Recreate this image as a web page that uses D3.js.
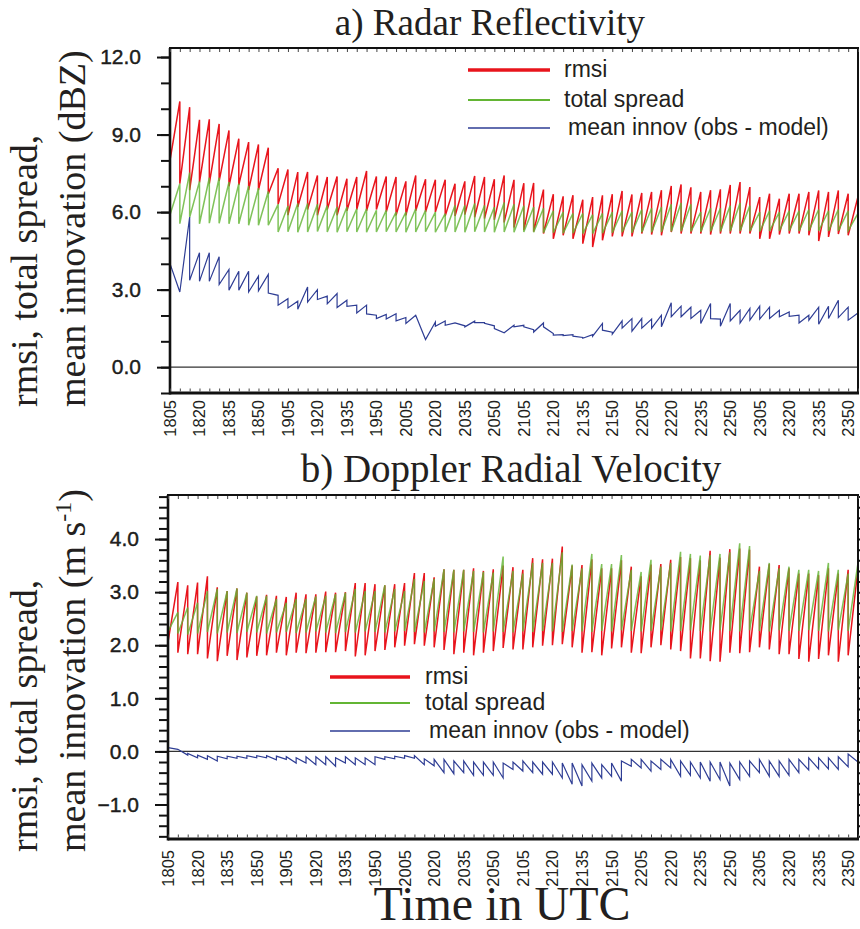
<!DOCTYPE html>
<meta charset="utf-8">
<script src="https://d3js.org/d3.v7.min.js"></script>
<style>
  body { margin: 0; background: #fff; }
  svg text { fill: #231f20; }
</style>
<body>
<div id="canvas"></div>
<script>

// x axis: one analysis cycle every 5 minutes, 1805 .. 2355 UTC (index 0..70)
var xTickLabels = ["1805","1820","1835","1850","1905","1920","1935","1950",
                   "2005","2020","2035","2050","2105","2120","2135","2150",
                   "2205","2220","2235","2250","2305","2320","2335","2350"];
var cycleMinutes = d3.range(0, 351, 5);

// a) radar reflectivity (dBZ) - prior (forecast) and posterior (analysis) per cycle
var refRmsiPrior = [8.0,10.28,10.06,9.57,9.59,9.41,9.16,8.84,8.71,8.62,8.49,
  7.70,7.65,7.55,7.55,7.42,7.36,7.38,7.29,7.36,7.59,7.38,7.38,7.36,7.19,7.42,
  7.27,7.25,7.25,7.10,7.19,7.40,7.36,7.27,7.42,7.25,7.12,7.13,6.87,6.69,6.61,
  6.65,6.48,6.58,6.65,6.69,6.82,6.68,6.74,6.78,6.85,7.01,7.07,6.96,6.78,6.85,
  6.88,7.05,7.16,6.97,6.58,6.71,6.52,6.71,6.71,6.78,6.84,6.78,6.84,6.71,6.6];
var refRmsiPost = [8.0,7.10,6.85,7.15,7.10,7.20,7.00,7.05,6.85,6.85,6.70,
  6.30,5.88,6.20,6.10,5.88,6.10,5.88,6.05,6.10,6.05,6.10,6.00,5.88,5.88,6.05,
  6.00,6.00,5.85,5.85,5.90,5.80,5.75,5.70,5.60,5.40,5.30,5.25,5.17,4.97,5.10,
  4.97,4.78,4.65,4.91,5.06,5.06,5.06,5.17,5.13,5.10,5.23,5.17,5.17,5.17,5.13,
  5.17,5.17,5.17,5.17,4.97,4.97,5.13,5.17,5.17,5.10,4.88,5.04,5.15,5.10,6.6];
var refSpreadPrior = [5.9,7.10,7.53,7.19,7.33,7.33,7.16,7.10,7.01,6.93,6.80,
  6.30,6.24,6.33,6.33,6.30,6.25,6.20,6.20,6.13,6.13,6.07,6.07,6.00,6.00,6.13,
  6.07,6.00,5.94,6.26,6.26,6.33,6.26,6.20,6.37,6.30,6.25,6.20,6.15,6.05,6.00,
  5.95,5.95,5.90,5.95,6.00,6.05,6.00,6.10,6.15,6.20,6.30,6.35,6.30,6.00,6.15,
  6.15,6.25,6.35,6.25,6.00,6.05,6.00,6.05,6.05,6.10,6.10,6.05,6.10,6.05,5.95];
var refSpreadPost = [5.9,5.55,5.80,5.55,5.57,5.57,5.55,5.55,5.49,5.49,5.49,
  5.23,5.24,5.22,5.23,5.25,5.23,5.22,5.24,5.23,5.22,5.23,5.24,5.23,5.22,5.23,
  5.24,5.22,5.23,5.23,5.22,5.24,5.23,5.22,5.23,5.22,5.23,5.22,5.20,5.20,5.18,
  5.18,5.17,5.17,5.18,5.20,5.22,5.20,5.22,5.22,5.23,5.25,5.26,5.25,5.24,5.25,
  5.25,5.26,5.27,5.26,5.25,5.27,5.28,5.28,5.27,5.28,5.28,5.27,5.28,5.28,5.95];
var refInnovPrior = [4.0,2.91,5.81,4.43,4.43,4.27,3.78,3.71,3.71,3.52,3.59,
  2.78,2.65,2.55,3.10,3.00,2.75,2.85,2.59,2.40,2.40,2.01,2.04,2.07,1.92,2.01,
  1.07,1.75,1.79,1.71,1.60,1.78,1.72,1.60,1.33,1.62,1.62,1.45,1.71,1.30,1.26,
  1.26,1.15,1.26,1.69,1.35,1.79,1.88,1.88,1.86,2.01,2.49,2.36,2.32,2.20,2.46,
  1.86,2.46,2.20,2.27,2.36,2.32,2.20,2.14,2.01,2.01,2.32,2.36,2.59,2.32,2.10];
var refInnovPost = [4.0,2.91,3.36,3.32,3.32,3.20,2.98,2.98,2.91,2.95,2.87,
  2.40,2.29,2.24,2.52,2.62,2.45,2.31,2.35,2.10,2.06,1.88,1.86,1.79,1.69,2.01,
  1.07,1.58,1.62,1.71,1.56,1.72,1.70,1.49,1.33,1.56,1.56,1.36,1.56,1.24,1.22,
  1.20,1.12,1.20,1.43,1.28,1.51,1.39,1.51,1.51,1.56,1.95,1.95,1.88,1.69,1.88,
  1.58,1.79,1.71,1.82,1.86,1.88,1.95,1.97,1.71,1.82,1.66,1.88,1.92,1.82,2.10];

// b) doppler radial velocity (m/s)
var velRmsiPrior = [2.06,3.19,3.13,3.18,3.30,3.09,3.02,3.07,2.99,2.92,2.95,
  2.93,2.91,2.99,2.96,2.96,3.01,2.99,3.00,3.17,3.17,3.15,3.13,3.15,3.17,3.36,
  3.36,3.28,3.43,3.42,3.42,3.45,3.40,3.43,3.50,3.47,3.42,3.64,3.62,3.63,3.86,
  3.50,3.51,3.62,3.45,3.45,3.60,3.48,3.30,3.52,3.53,3.61,3.66,3.64,3.60,3.78,
  3.65,3.81,3.82,3.80,3.48,3.53,3.51,3.45,3.35,3.35,3.32,3.45,3.35,3.42,3.45];
var velRmsiPost = [2.06,1.86,1.83,1.83,1.75,1.70,1.80,1.72,1.77,1.80,1.81,
  1.86,1.81,1.86,1.85,1.86,1.87,1.87,1.89,1.79,1.81,1.89,1.91,1.96,1.99,2.02,
  1.99,1.96,1.91,1.83,1.86,1.81,1.86,1.89,1.95,1.92,1.92,1.96,1.99,2.00,2.02,
  1.96,1.86,1.87,1.81,1.94,1.96,1.86,1.85,1.96,2.00,1.92,1.89,1.75,1.75,1.70,
  1.69,1.86,1.85,1.87,1.96,1.92,1.83,1.83,1.74,1.69,1.74,1.81,1.69,1.81,3.45];
var velSpreadPrior = [2.26,2.62,2.71,2.80,3.02,3.06,3.02,3.07,2.99,2.93,2.93,
  2.87,2.80,2.87,2.87,2.92,2.93,2.96,2.99,3.06,3.02,3.02,3.13,3.06,3.02,3.25,
  3.21,3.25,3.43,3.42,3.42,3.40,3.38,3.37,3.67,3.40,3.35,3.55,3.55,3.55,3.75,
  3.52,3.45,3.72,3.53,3.53,3.70,3.42,3.38,3.61,3.48,3.55,3.76,3.72,3.69,3.70,
  3.72,3.75,3.92,3.87,3.40,3.55,3.45,3.48,3.42,3.42,3.40,3.55,3.42,3.35,3.55];
var velSpreadPost = [2.26,2.22,2.20,2.22,2.25,2.22,2.24,2.23,2.25,2.24,2.22,
  2.24,2.25,2.23,2.24,2.26,2.24,2.23,2.25,2.24,2.26,2.25,2.24,2.26,2.27,2.25,
  2.24,2.26,2.25,2.24,2.26,2.25,2.24,2.26,2.25,2.24,2.26,2.25,2.27,2.26,2.25,
  2.27,2.26,2.25,2.27,2.26,2.28,2.27,2.26,2.27,2.28,2.26,2.27,2.28,2.27,2.26,
  2.28,2.27,2.26,2.28,2.27,2.26,2.28,2.27,2.27,2.28,2.27,2.26,2.28,2.27,3.55];
var velInnovPrior = [0.07,0.04,-0.07,-0.12,-0.15,-0.18,-0.14,-0.13,-0.13,-0.12,-0.12,
  -0.16,-0.15,-0.22,-0.22,-0.25,-0.25,-0.28,-0.22,-0.25,-0.25,-0.25,-0.15,-0.14,-0.13,-0.13,
  -0.25,-0.27,-0.40,-0.42,-0.40,-0.45,-0.45,-0.45,-0.50,-0.34,-0.37,-0.40,-0.43,-0.43,-0.50,
  -0.62,-0.65,-0.56,-0.50,-0.47,-0.56,-0.28,-0.31,-0.37,-0.34,-0.31,-0.47,-0.45,-0.50,-0.56,
  -0.53,-0.65,-0.53,-0.47,-0.40,-0.47,-0.47,-0.45,-0.40,-0.35,-0.33,-0.33,-0.34,-0.29,-0.20];
var velInnovPost = [0.07,0.04,-0.04,-0.07,-0.08,-0.09,-0.09,-0.09,-0.08,-0.08,-0.08,
  -0.09,-0.10,-0.12,-0.10,-0.10,-0.10,-0.12,-0.10,-0.12,-0.12,-0.10,-0.10,-0.09,-0.08,-0.08,
  -0.14,-0.15,-0.15,-0.18,-0.18,-0.20,-0.20,-0.20,-0.22,-0.20,-0.18,-0.20,-0.20,-0.20,-0.22,
  -0.22,-0.25,-0.22,-0.25,-0.22,-0.18,-0.15,-0.15,-0.18,-0.15,-0.15,-0.18,-0.20,-0.20,-0.20,
  -0.20,-0.22,-0.20,-0.18,-0.15,-0.18,-0.18,-0.15,-0.15,-0.12,-0.12,-0.12,-0.10,-0.05,-0.20];

var red = "#e8141c", green = "#63b534", blue = "#2e3d94";
var serif = "'Liberation Serif', 'Times New Roman', serif";
var sans = "'Liberation Sans', Arial, sans-serif";

var svg = d3.select("#canvas").append("svg")
    .attr("width", 860).attr("height", 929);

// builds the sawtooth: prior then analysis at the same time
function sawtooth(prior, post) {
  var pts = [];
  cycleMinutes.forEach(function(t, i) {
    pts.push([t, prior[i]]);
    pts.push([t, post[i]]);
  });
  return pts;
}

function drawPanel(p) {
  var x = d3.scaleLinear().domain([0, 350]).range([p.left, p.right]);
  var y = d3.scaleLinear().domain(p.yDomain).range([p.bottom, p.top]);

  svg.append("clipPath").attr("id", p.id + "clip")
    .append("rect")
    .attr("x", p.left).attr("y", p.top)
    .attr("width", p.right - p.left).attr("height", p.bottom - p.top);

  // zero line
  svg.append("line")
    .attr("x1", p.left).attr("x2", p.right)
    .attr("y1", y(0)).attr("y2", y(0))
    .attr("stroke", "#333").attr("stroke-width", 1.3);

  var line = d3.line()
    .x(function(d) { return x(d[0]); })
    .y(function(d) { return y(d[1]); });

  var g = svg.append("g").attr("clip-path", "url(#" + p.id + "clip)");
  g.append("path").attr("d", line(sawtooth(p.rmsi[0], p.rmsi[1])))
    .attr("fill", "none").attr("stroke", red).attr("stroke-width", 1.5);
  g.append("path").attr("d", line(sawtooth(p.spread[0], p.spread[1])))
    .attr("fill", "none").attr("stroke", green).attr("stroke-width", 1.5)
    .attr("stroke-opacity", 0.82);
  g.append("path").attr("d", line(sawtooth(p.innov[0], p.innov[1])))
    .attr("fill", "none").attr("stroke", blue).attr("stroke-width", 1.2);

  // frame
  svg.append("rect")
    .attr("x", p.left).attr("y", p.top)
    .attr("width", p.right - p.left).attr("height", p.bottom - p.top)
    .attr("fill", "none").attr("stroke", "#111").attr("stroke-width", 2);
  svg.append("line").attr("x1", p.left).attr("x2", p.left)
    .attr("y1", p.top).attr("y2", p.bottom + 1.5)
    .attr("stroke", "#111").attr("stroke-width", 2.6);
  svg.append("line").attr("x1", p.left).attr("x2", p.right + 1)
    .attr("y1", p.bottom).attr("y2", p.bottom)
    .attr("stroke", "#111").attr("stroke-width", 3);

  // y axis, major + minor ticks pointing out
  var yl = d3.axisLeft(y).tickValues(p.yMinor).tickSize(9).tickFormat("");
  svg.append("g").attr("transform", "translate(" + p.left + ",0)").call(yl)
    .call(function(a) { a.select(".domain").remove(); })
    .selectAll("line").attr("stroke", "#111").attr("stroke-width", 2);
  var ya = d3.axisLeft(y).tickValues(p.yMajor).tickSize(13).tickPadding(16)
    .tickFormat(d3.format(".1f"));
  var yg = svg.append("g").attr("transform", "translate(" + p.left + ",0)").call(ya);
  yg.select(".domain").remove();
  yg.selectAll("line").attr("stroke", "#111").attr("stroke-width", 2);
  yg.selectAll("text").attr("font-family", sans).attr("font-size", 21)
    .attr("fill", "#111").attr("stroke", "#111").attr("stroke-width", 0.4);

  if (p.rightTicks) {
    var yr = d3.axisRight(y).tickValues(p.yMinor).tickSize(6).tickFormat("");
    svg.append("g").attr("transform", "translate(" + p.right + ",0)").call(yr)
      .call(function(a) { a.select(".domain").remove(); })
      .selectAll("line").attr("stroke", "#111").attr("stroke-width", 2);
  }

  // x minor ticks inside, top and bottom
  var xb = d3.axisBottom(x).tickValues(cycleMinutes).tickSize(-3).tickFormat("");
  svg.append("g").attr("transform", "translate(0," + (p.bottom - 1.5) + ")").call(xb)
    .call(function(a) { a.select(".domain").remove(); })
    .selectAll("line").attr("stroke", "#444").attr("stroke-width", 1);
  var xt = d3.axisTop(x).tickValues(cycleMinutes).tickSize(-3).tickFormat("");
  svg.append("g").attr("transform", "translate(0," + (p.top + 1) + ")").call(xt)
    .call(function(a) { a.select(".domain").remove(); })
    .selectAll("line").attr("stroke", "#444").attr("stroke-width", 1);

  // x labels, rotated
  svg.append("g").selectAll("text")
    .data(xTickLabels)
    .enter().append("text")
    .attr("transform", function(d, i) {
      return "translate(" + (x(i * 15) + 6) + "," + (p.bottom + p.labelGap) + ") rotate(-90)";
    })
    .attr("text-anchor", "end")
    .attr("font-family", sans).attr("font-size", 16.5)
    .text(function(d) { return d; });

  // title
  svg.append("text").attr("x", p.titleX).attr("y", p.titleY)
    .attr("text-anchor", "middle").attr("font-family", serif).attr("font-size", p.titleSize)
    .text(p.title);

  // y label, two lines rotated
  var lab = svg.append("g").attr("font-family", serif).attr("font-size", 38);
  lab.append("text").attr("transform", "translate(37," + p.labelY + ") rotate(-90)")
    .text("rmsi, total spread,");
  var l2 = lab.append("text").attr("transform", "translate(85," + p.labelY + ") rotate(-90)");
  l2.append("tspan").text(p.unitLine);
  if (p.sup) {
    l2.append("tspan").attr("font-size", 24).attr("dy", -14).text(p.sup);
    l2.append("tspan").attr("dy", 14).text(")");
  }

  // legend
  var leg = [
    {name: "rmsi", color: red, w: 3.5, dx: 0},
    {name: "total spread", color: green, w: 2, dx: 0},
    {name: "mean innov (obs - model)", color: blue, w: 1.4, dx: 4}
  ];
  var lg = svg.append("g");
  leg.forEach(function(d, i) {
    var ly = p.legY[i];
    lg.append("line").attr("x1", p.legX1).attr("x2", p.legX2)
      .attr("y1", ly).attr("y2", ly)
      .attr("stroke", d.color).attr("stroke-width", d.w);
    lg.append("text").attr("x", p.legText + d.dx).attr("y", ly + 7)
      .attr("font-family", sans).attr("font-size", 23)
      .text(d.name);
  });
}

drawPanel({
  id: "a", left: 170, right: 858, top: 48, bottom: 393,
  yDomain: [-1.0, 12.35],
  yMajor: [0, 3, 6, 9, 12],
  yMinor: d3.range(-1, 12.5, 1),
  rightTicks: false,
  rmsi: [refRmsiPrior, refRmsiPost],
  spread: [refSpreadPrior, refSpreadPost],
  innov: [refInnovPrior, refInnovPost],
  labelGap: 7,
  title: "a) Radar Reflectivity", titleX: 490, titleY: 35, titleSize: 37,
  labelY: 407, unitLine: "mean innovation (dBZ)",
  legX1: 468, legX2: 550, legText: 564, legY: [70, 100, 128]
});

drawPanel({
  id: "b", left: 168, right: 858, top: 495, bottom: 839,
  yDomain: [-1.65, 4.83],
  yMajor: [-1, 0, 1, 2, 3, 4],
  yMinor: d3.range(-16, 49, 2).map(function(v) { return v / 10; }),
  rightTicks: true,
  rmsi: [velRmsiPrior, velRmsiPost],
  spread: [velSpreadPrior, velSpreadPost],
  innov: [velInnovPrior, velInnovPost],
  labelGap: 11,
  title: "b) Doppler Radial Velocity", titleX: 511, titleY: 482, titleSize: 39,
  labelY: 852, unitLine: "mean innovation (m s", sup: "-1",
  legX1: 330, legX2: 410, legText: 425, legY: [677, 703, 731]
});

svg.append("text").attr("x", 502).attr("y", 920)
  .attr("text-anchor", "middle").attr("font-family", serif).attr("font-size", 48)
  .text("Time in UTC");

</script>
</body>
